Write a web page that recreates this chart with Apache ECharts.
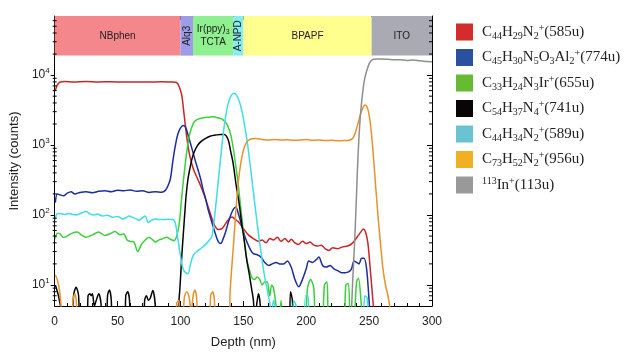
<!DOCTYPE html>
<html><head><meta charset="utf-8">
<script src="https://cdn.jsdelivr.net/npm/echarts@6/dist/echarts.min.js"></script>
<style>html,body{margin:0;padding:0;background:#fff}#c{width:630px;height:360px}</style>
</head><body><div id="c"></div>
<script>
// ---- series names & colours ----
const seriesNames = ['C44H29N2+(585u)','C45H30N5O3Al2+(774u)','C33H24N3Ir+(655u)','C54H37N4+(741u)','C44H34N2+(589u)','C73H52N2+(956u)','113In+(113u)'];
const lineColors = ['#cc2424','#1a2e9e','#3ccf3c','#050505','#40dce8','#e8922a','#8e8e8e'];
const legendColors = ['#d42c2c','#2a50a2','#66bb33','#0a0505','#6ac3d3','#efb023','#999999'];

// ---- data: [depth nm, counts] ----
const red = [[0.5,6000],[2,7200],[4,7900],[8,8100],[15,8000],[25,8100],[35,8000],[45,8050],[55,7950],[65,8000],[75,7950],[85,8050],[93,8000],[97,7800],[99,6800],[101,5200],[103,2600],[105,1300],[107,760],[109,540],[111,420],[115,290],[119,190],[123,115],[127,72],[130,62],[133,64],[136,76],[139,90],[141,94],[143,88],[146,80],[150,64],[154,52],[158,46],[162,42],[165,44],[168,40],[171,46],[174,44],[177,48],[180,42],[183,46],[186,41],[188,45],[191,40],[194,38],[197,42],[200,39],[203,41],[206,37],[209,36],[212,37],[215,33],[218,31],[221,34],[225,33],[229,35],[233,36],[237,40],[240,47],[243,56],[245.5,63],[247,58],[249,40],[251,16],[253,6],[255,2]];
const blue = [[0.5,150],[2,200],[4,195],[7,188],[10,205],[13,215],[16,200],[20,210],[25,215],[30,208],[35,218],[40,222],[45,215],[50,225],[55,222],[60,228],[65,218],[70,222],[75,210],[80,215],[85,212],[88,225],[90,260],[92,330],[94,600],[96,1000],[98,1450],[100,1750],[102,1900],[104,1800],[106,1400],[108,1050],[110,780],[112,580],[114,440],[116,330],[118,230],[120,170],[122,120],[124,90],[126,68],[128,52],[130,42],[132,39],[134,46],[136,58],[138,78],[140,100],[142,120],[144,130],[146,105],[148,78],[150,58],[152,45],[154,37],[156,31],[158,28],[161,27],[164,25],[167,21],[170,19],[173,20],[176,21],[179,20],[182,20],[185,22],[188,18],[191,12],[194,9.4],[197,12],[200,17],[202,22],[205,21],[208,23],[210,25],[213,19],[216,18],[219,19],[222,17],[225,16],[228,15],[231,15],[234,15.5],[236,17],[238,22],[240,21],[242,20],[244,24],[246,24],[248,17],[249.5,8],[251,3]];
const green = [[0.5,46],[2,55],[4,54],[7,48],[10,50],[14,55],[18,57],[21,52],[25,48],[30,52],[35,57],[40,51],[44,54],[48,58],[52,52],[55,54],[57.5,44],[60,42],[63,41],[66,30],[69,38],[72,44],[75,48],[78,44],[80,41],[83,44],[86,46],[89,48],[92,45],[95,43],[97,50],[99,75],[101,180],[103,400],[105,800],[107,1350],[109,1800],[111,2150],[114,2350],[118,2450],[122,2500],[126,2530],[130,2450],[133,2350],[136,2100],[138,1800],[140,1400],[142,900],[144,500],[145.5,320],[147,180],[149,85],[151,40],[153,22],[155,16],[157,12.5],[159,12],[161,13],[163,12],[165,10],[167,11],[169,11],[171,7],[172.5,10],[174,9],[176,5],[178,2],[180,6],[182,2],[198,2],[201,9],[203.5,12],[206,9],[208,2],[212,2],[214.5,10],[216.5,11],[218.5,2],[229,2],[231.5,10],[233.5,10.5],[235.5,2],[238,3],[240,11],[241.5,12.5],[243.5,6],[245,2]];
const black = [[0.5,10],[3,7],[6,3.5],[8,1],[13,1],[15,7],[17,9.3],[19,7],[21,1],[25,1],[26.5,7],[28,7.5],[29,7],[30,7.5],[31.5,5],[33,6],[35,7.5],[37,5],[38.5,1],[40.5,1],[42,7],[43.5,8.5],[45,6],[46.5,1],[55,1],[56.5,7],[58,8],[59.5,6],[61,1],[70,1],[71.5,6],[73,7],[74.5,6],[76,6.5],[78,8.3],[80,5],[81.5,1],[96,1],[98,4],[99.5,8.7],[101,25],[102,46],[103.5,110],[104.5,190],[106,330],[107.5,460],[109,620],[111,800],[113.5,980],[116,1110],[120,1250],[124,1350],[128,1390],[132,1420],[135,1420],[137,1300],[138.5,1100],[140,800],[141.5,600],[142.5,460],[144.5,250],[146.5,153],[148.5,80],[150.5,46],[152.5,24],[154.5,15],[156.5,9],[158,6],[159,3],[160.5,5],[162,7.5],[163.5,5],[165,1],[185.5,1],[187.5,8],[189,6],[190.5,1]];
const cyan = [[0.5,85],[2,105],[5,104],[8,102],[11,105],[14,102],[17,100],[20,104],[23,110],[25,112],[28,104],[31,100],[34,103],[38,97],[42,99],[46,93],[50,95],[54,88],[57,92],[59,97],[62,92],[65,88],[67,84],[70,92],[72,97],[74.5,78],[77,84],[80,88],[83,86],[86,86],[90,87],[94,86],[96,75],[98,45],[100,26],[102,17],[104,15],[106,14.5],[108,20],[110,26],[112,29],[114,31],[117,34],[120,38],[123,44],[125,50],[127,90],[129,200],[131,450],[133,1000],[135,2000],[137,3300],[139,4500],[141,5300],[143,5500],[145,5000],[147,4100],[149,3000],[151,1900],[153,1150],[155,600],[157,300],[159,150],[161,75],[163,40],[165,22],[167,13],[169,8.5],[171,5.5],[172.5,4],[174,6],[175.5,4.5],[177,1],[188,1],[190,6],[192,5],[193.5,1],[197,1],[199.5,7],[201.5,7],[203.5,1],[244,1],[246.5,7],[248.5,6.5],[250,1]];
const orange = [[0.5,14],[2,12],[4,8],[6,3],[8,1],[13,1],[14.5,6],[16,7.5],[17.5,5],[19,1],[95,1],[97,5.5],[98.5,6],[100,2],[101.5,2],[103,6.5],[105,8],[107,6.5],[108.5,4],[110,7],[111.5,8.5],[113,6],[114.5,1],[122,1],[124,7],[125.5,8],[127,6],[128.5,1],[138,1],[139.5,8],[141,20],[142.5,46],[144,110],[145.5,240],[147,420],[149,700],[151,950],[153,1120],[156,1220],[160,1240],[165,1200],[170,1180],[175,1200],[180,1180],[185,1190],[190,1170],[195,1180],[200,1200],[205,1170],[210,1180],[215,1160],[220,1170],[225,1150],[230,1160],[234,1170],[237,1250],[239,1500],[241,2000],[243,2700],[245,3400],[246.5,3750],[248,3600],[249.5,3000],[251,2000],[252.5,1100],[254,500],[255.5,220],[257,100],[259,40],[261,17],[263,10],[265,7],[267,4],[269,1]];
const gray = [[233,1],[235.5,3],[237,12],[238.6,46],[240,200],[241.2,715],[242.5,1900],[243.8,3720],[246,8000],[247.8,11100],[250,14500],[252,16400],[256,17000],[260,17000],[265,16800],[270,16600],[275,16600],[280,16200],[285,16400],[290,16000],[295,15600],[300,15500]];
const seriesData = [red, blue, green, black, cyan, orange, gray];

// ---- layer band ----
const layerLabels = ['NBphen','Alq3','Ir(ppy){s|3}\nTCTA','A-NPD','BPAPF','ITO'];
const layerStart = [0,100,110,142,150,252];
const layerEnd = [100,110,142,150,252,300];
const layerColors = ['#f4878c','#9c9ce8','#8ef08e','#84eeee','#ffff8e','#aaaab4'];
const layerVertical = [false,true,false,true,false,false];
const bandBottom = 19000;

// ---- axes ----
const xMin = 0, xMax = 300, xInterval = 50;
const yMin = 5, yMax = 70000;
const minorVals = [];
for (let e = 0; e <= 4; e++) for (let m = 2; m <= 9; m++) { const v = m * Math.pow(10, e); if (v > yMin && v < yMax) minorVals.push([0, v]); }

function chemRich(s) {
  let out = ''; let i = 0;
  const m = s.match(/^(\d+)/);
  if (m) { out += '{sup|' + m[1] + '}'; i = m[1].length; }
  while (i < s.length) {
    const c = s[i];
    if (c === '(') { out += '{n|' + s.slice(i) + '}'; break; }
    if (/\d/.test(c)) { let j = i; while (j < s.length && /\d/.test(s[j])) j++; out += '{sub|' + s.slice(i, j) + '}'; i = j; continue; }
    if (c === '+') { out += '{sup|+}'; i++; continue; }
    let j = i; while (j < s.length && !/[\d+(]/.test(s[j])) j++; out += '{n|' + s.slice(i, j) + '}'; i = j;
  }
  return out;
}

const serif = '"Liberation Serif","DejaVu Serif",serif';
const sans = '"Liberation Sans",Arial,sans-serif';

const chart = echarts.init(document.getElementById('c'), null, {renderer: 'canvas'});

const lineSeries = seriesNames.map((name, k) => ({
  name, type: 'line', data: seriesData[k], showSymbol: false, smooth: 0.3, clip: true,
  xAxisIndex: 0, yAxisIndex: 0, z: 3,
  itemStyle: {color: legendColors[k]},
  lineStyle: {color: lineColors[k], width: 1.5}
}));

const option = {
  animation: false,
  backgroundColor: '#fff',
  grid: {left: 52, right: 198, top: 16, bottom: 54, containLabel: false},
  legend: {
    orient: 'vertical', left: 451, top: 18, itemWidth: 17, itemHeight: 17, itemGap: 7.5,
    icon: 'rect', data: seriesNames,
    itemStyle: {borderWidth: 0},
    formatter: (n) => chemRich(n),
    textStyle: {
      padding: [0, 0, 0, 4],
      rich: {
        n: {fontFamily: serif, fontSize: 15, lineHeight: 18, color: '#222'},
        sub: {fontFamily: serif, fontSize: 10, lineHeight: 10, verticalAlign: 'bottom', color: '#222'},
        sup: {fontFamily: serif, fontSize: 10, lineHeight: 10, verticalAlign: 'top', color: '#222'}
      }
    }
  },
  xAxis: [{
    type: 'value', min: xMin, max: xMax, interval: xInterval, position: 'bottom',
    name: 'Depth (nm)', nameLocation: 'middle', nameGap: 30,
    nameTextStyle: {fontFamily: sans, fontSize: 13, color: '#222'},
    axisLine: {show: true, onZero: false, lineStyle: {color: '#000', width: 1}},
    axisTick: {show: true, inside: true, length: 5, lineStyle: {color: '#000'}},
    minorTick: {show: true, splitNumber: 5, length: 3, lineStyle: {color: '#000'}},
    axisLabel: {fontFamily: sans, fontSize: 12, color: '#222', margin: 10},
    splitLine: {show: false}
  }, {
    type: 'value', min: xMin, max: xMax, interval: xInterval, position: 'top',
    axisLine: {show: true, onZero: false, lineStyle: {color: '#000', width: 1}},
    axisTick: {show: true, inside: true, length: 4, lineStyle: {color: '#000'}},
    minorTick: {show: true, splitNumber: 5, length: 3, lineStyle: {color: '#000'}},
    axisLabel: {show: false}, splitLine: {show: false}
  }],
  yAxis: [{
    type: 'log', logBase: 10, min: yMin, max: yMax, position: 'left',
    name: 'Intensity (counts)', nameLocation: 'middle', nameGap: 31,
    nameTextStyle: {fontFamily: sans, fontSize: 13, color: '#222'},
    axisLine: {show: true, onZero: false, lineStyle: {color: '#000', width: 1}},
    axisTick: {show: true, inside: false, length: 4, lineStyle: {color: '#000'}},
    axisLabel: {
      fontFamily: sans, color: '#222', margin: 5, showMinLabel: false, showMaxLabel: false,
      formatter: (v) => { const l = Math.log10(v); const e = Math.round(l); if (Math.abs(l - e) > 1e-6) return ''; return '{n|10}{sup|' + e + '}'; },
      rich: {n: {fontFamily: sans, fontSize: 12, lineHeight: 16, color: '#222'}, sup: {fontFamily: sans, fontSize: 8, lineHeight: 8, verticalAlign: 'top', color: '#222'}}
    },
    splitLine: {show: false}
  }, {
    type: 'log', logBase: 10, min: yMin, max: yMax, position: 'right',
    axisLine: {show: true, onZero: false, lineStyle: {color: '#000', width: 1}},
    axisTick: {show: true, inside: true, length: 5, lineStyle: {color: '#000'}},
    axisLabel: {show: false}, splitLine: {show: false}
  }],
  series: [{
    type: 'custom', name: 'layers', xAxisIndex: 0, yAxisIndex: 0, silent: true, clip: false, z: 1,
    data: layerLabels.map((t, i) => [layerStart[i], layerEnd[i], i]),
    renderItem: (params, api) => {
      const i = api.value(2);
      const p0 = api.coord([api.value(0), yMax]);
      const p1 = api.coord([api.value(1), bandBottom]);
      const cx = (p0[0] + p1[0]) / 2, cy = (p0[1] + p1[1]) / 2;
      return {type: 'group', children: [
        {type: 'rect', shape: {x: p0[0], y: p0[1], width: p1[0] - p0[0], height: p1[1] - p0[1]}, style: {fill: layerColors[i]}},
        {type: 'text', x: cx, y: cy, rotation: layerVertical[i] ? Math.PI / 2 : 0,
          style: {text: layerLabels[i], fill: '#222', fontFamily: sans, fontSize: 10, lineHeight: 13, align: 'center', verticalAlign: 'middle',
            rich: {s: {fontFamily: sans, fontSize: 7, lineHeight: 7, verticalAlign: 'bottom', fill: '#222'}}}}
      ]};
    }
  }, {
    type: 'custom', name: 'minorTicks', xAxisIndex: 0, yAxisIndex: 0, silent: true, clip: false, z: 5,
    data: minorVals,
    renderItem: (params, api) => {
      const v = api.value(1);
      const a = api.coord([xMin, v]);
      const b = api.coord([xMax, v]);
      return {type: 'group', children: [
        {type: 'line', shape: {x1: a[0] - 2, y1: a[1], x2: a[0] + 2, y2: a[1]}, style: {stroke: '#000', lineWidth: 1}},
        {type: 'line', shape: {x1: b[0] - 3, y1: b[1], x2: b[0], y2: b[1]}, style: {stroke: '#000', lineWidth: 1}}
      ]};
    }
  }].concat(lineSeries)
};
chart.setOption(option);
</script></body></html>
